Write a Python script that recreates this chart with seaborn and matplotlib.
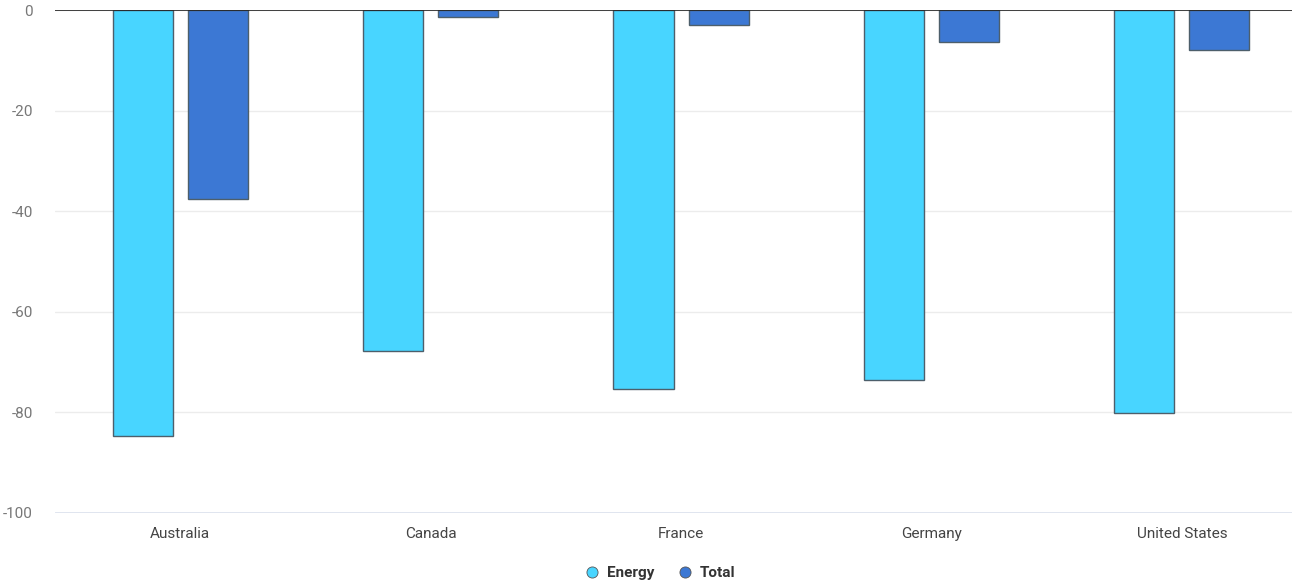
import seaborn as sns
import matplotlib.pyplot as plt
import matplotlib.ticker as mticker
from matplotlib.lines import Line2D
import pandas as pd

# values
countries = ['Australia', 'Canada', 'France', 'Germany', 'United States']
energy = [-84.7, -67.7, -75.4, -73.5, -80.2]
total = [-37.5, -1.3, -3.0, -6.4, -7.9]

df = pd.DataFrame({
    'Country': countries * 2,
    'Series': ['Energy'] * len(countries) + ['Total'] * len(countries),
    'Value': energy + total,
})

colors = {'Energy': '#48D5FF', 'Total': '#3C78D4'}

sns.set_style('white')
plt.rcParams['font.family'] = ['Roboto', 'DejaVu Sans']

fig = plt.figure(figsize=(12.99, 5.84), dpi=100)
ax = fig.add_axes([55 / 1299, 1 - 513 / 584, 1237 / 1299, 503 / 584])

sns.barplot(data=df, x='Country', y='Value', hue='Series', palette=colors,
            saturation=1, width=0.6, gap=0.2, edgecolor='#4d5f6b', linewidth=1.0,
            legend=False, ax=ax)

ax.set_ylim(-100, 0)
ax.set_xlim(-0.5, 4.44)
ax.yaxis.set_major_locator(mticker.MultipleLocator(20))
ax.yaxis.set_major_formatter(mticker.FuncFormatter(lambda v, p: f'{v:.0f}'.replace('\u2212', '-')))
ax.grid(axis='y', color='#ececec', linewidth=1)
ax.set_axisbelow(True)
ax.axhline(0, color='#222222', linewidth=1.2, zorder=5)
ax.axhline(-100, color='#dde3ee', linewidth=2, zorder=1)

for s in ax.spines.values():
    s.set_visible(False)

ax.set_xlabel('')
ax.set_ylabel('')
ax.tick_params(axis='y', length=0, pad=16, labelsize=11, labelcolor='#777777')
ax.tick_params(axis='x', length=0, pad=10, labelsize=11, labelcolor='#444444')

handles = [Line2D([], [], marker='o', linestyle='', markersize=8,
                  markerfacecolor=colors[k], markeredgecolor='#555555',
                  markeredgewidth=0.6, label=k) for k in colors]
leg = fig.legend(handles=handles, loc='center', bbox_to_anchor=(0.505, 1 - 573 / 584),
                 ncol=2, frameon=False, handletextpad=0.0, columnspacing=1.0,
                 prop={'weight': 'bold', 'size': 11})
for t in leg.get_texts():
    t.set_color('#333333')

fig.savefig('out.png', dpi=100)
